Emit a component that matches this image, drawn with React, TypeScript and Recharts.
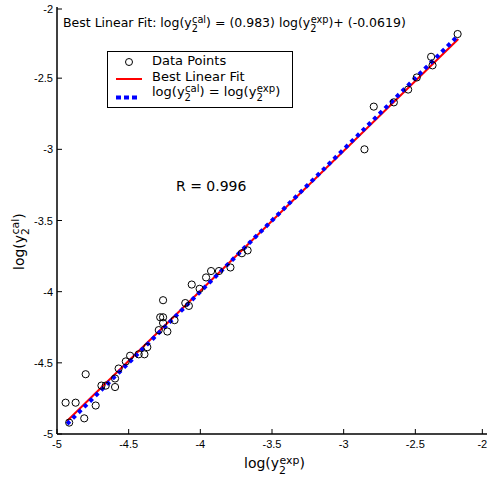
import React from "react"
import {
  ComposedChart,
  Scatter,
  Line,
  XAxis,
  YAxis,
  Customized
} from "recharts"

// experimental vs calculated (log y2)
const logExp = [
  -4.94, -4.87, -4.915, -4.81, -4.8, -4.73, -4.69, -4.66, -4.595, -4.595,
  -4.57, -4.52, -4.49, -4.43, -4.39, -4.37, -4.29, -4.28, -4.26, -4.26,
  -4.26, -4.23, -4.18, -4.105, -4.08, -4.06, -4.005, -3.96, -3.925, -3.87,
  -3.79, -3.71, -3.67, -2.855, -2.79, -2.65, -2.55, -2.49, -2.39, -2.38, -2.205
]
const logCal = [
  -4.78, -4.78, -4.92, -4.89, -4.58, -4.8, -4.66, -4.66, -4.67, -4.61,
  -4.54, -4.49, -4.45, -4.44, -4.44, -4.39, -4.27, -4.18, -4.18, -4.06,
  -4.22, -4.28, -4.2, -4.08, -4.1, -3.95, -3.98, -3.9, -3.855, -3.855,
  -3.83, -3.73, -3.71, -3.0, -2.7, -2.67, -2.58, -2.495, -2.35, -2.41, -2.19
]

// fit from the figure: log(cal) = 0.983 log(exp) - 0.0619
const fitSlope = 0.983
const fitIntercept = -0.0619
const lineRange = [-4.93, -2.2]
const ticks = [-5, -4.5, -4, -3.5, -3, -2.5, -2]

const points = logExp.map((x, i) => ({ x, y: logCal[i] }))
const fitLine = lineRange.map(x => ({ x, fit: fitSlope * x + fitIntercept }))
const idLine = lineRange.map(x => ({ x, ident: x }))

const TICK_FONT = "'Liberation Sans', Arial, sans-serif"
const FONT = "'DejaVu Sans', Verdana, sans-serif"

const BottomTick = (p: any) => (
  <g>
    <line x1={p.x} y1={p.y} x2={p.x} y2={p.y - 5} stroke="#000" />
    <text x={p.x} y={p.y + 14} textAnchor="middle" fontSize={11} fontFamily={TICK_FONT} fill="#000">
      {p.payload.value}
    </text>
  </g>
)
const LeftTick = (p: any) => (
  <g>
    <line x1={p.x} y1={p.y} x2={p.x + 5} y2={p.y} stroke="#000" />
    <text x={p.x - 4} y={p.y + 4} textAnchor="end" fontSize={11} fontFamily={TICK_FONT} fill="#000">
      {p.payload.value}
    </text>
  </g>
)
const TopTick = (p: any) => (
  <line x1={p.x} y1={p.y} x2={p.x} y2={p.y + 5} stroke="#000" />
)
const RightTick = (p: any) => (
  <line x1={p.x} y1={p.y} x2={p.x - 5} y2={p.y} stroke="#000" />
)

// y with subscript 2 and superscript stacked over it
const YSubSup = ({ sup, size }: { sup: string; size: number }) => {
  const s = size * 0.78
  return (
    <>
      <tspan>log(y</tspan>
      <tspan fontSize={s} dy={size * 0.4}>2</tspan>
      <tspan fontSize={s} dx={-s * 0.6} dy={-size * 0.7}>{sup}</tspan>
      <tspan dy={size * 0.3}>)</tspan>
    </>
  )
}

const Annotations = () => (
  <g fontFamily={FONT} fill="#000">
    <text x={63} y={27} fontSize={12.5}>
      <tspan>Best Linear Fit:  </tspan>
      <YSubSup sup="cal" size={12.5} />
      <tspan> = (0.983) </tspan>
      <YSubSup sup="exp" size={12.5} />
      <tspan>+ (-0.0619)</tspan>
    </text>
    <text x={176} y={191} fontSize={14}>R = 0.996</text>

    {/* legend */}
    <rect x={107.5} y={51.5} width={185} height={56} fill="#fff" stroke="#000" />
    <circle cx={129} cy={62} r={3.5} fill="none" stroke="#000" />
    <text x={152} y={65} fontSize={13}>Data Points</text>
    <line x1={116} y1={79} x2={142} y2={79} stroke="#ff0000" strokeWidth={2} />
    <text x={152} y={81} fontSize={13}>Best Linear Fit</text>
    <line x1={116} y1={97.5} x2={140} y2={97.5} stroke="#0000ff" strokeWidth={4} strokeDasharray="5 3" />
    <text x={152} y={96} fontSize={13}>
      <YSubSup sup="cal" size={13} />
      <tspan> = </tspan>
      <YSubSup sup="exp" size={13} />
    </text>

    {/* axis titles */}
    <text x={244} y={468} fontSize={14}>
      <YSubSup sup="exp" size={14} />
    </text>
    <text transform="translate(23.5,270) rotate(-90)" fontSize={14}>
      <YSubSup sup="cal" size={14} />
    </text>
  </g>
)

export default function App() {
  return (
    <div style={{ position: "absolute", left: 0, top: 0, background: "#fff" }}>
      <ComposedChart
        width={489}
        height={479}
        margin={{ top: 7, right: 2, bottom: 15, left: 17 }}
      >
        <XAxis
          dataKey="x"
          type="number"
          domain={[-5, -2]}
          ticks={ticks}
          height={30}
          tickSize={0}
          tickMargin={0}
          tick={<BottomTick />}
          axisLine={{ stroke: "#000", strokeWidth: 1.5 }}
          allowDataOverflow
        />
        <XAxis
          xAxisId="top"
          orientation="top"
          type="number"
          domain={[-5, -2]}
          ticks={ticks}
          height={0}
          tickSize={0}
          tickMargin={0}
          tick={<TopTick />}
          axisLine={{ stroke: "#000", strokeWidth: 1.5 }}
        />
        <YAxis
          type="number"
          domain={[-5, -2]}
          ticks={ticks}
          width={40}
          tickSize={0}
          tickMargin={0}
          tick={<LeftTick />}
          axisLine={{ stroke: "#000", strokeWidth: 1.5 }}
          allowDataOverflow
        />
        <YAxis
          yAxisId="right"
          orientation="right"
          type="number"
          domain={[-5, -2]}
          ticks={ticks}
          width={0}
          tickSize={0}
          tickMargin={0}
          tick={<RightTick />}
          axisLine={{ stroke: "#000", strokeWidth: 1.5 }}
        />
        <Line
          data={fitLine}
          dataKey="fit"
          stroke="#ff0000"
          strokeWidth={2}
          dot={false}
          isAnimationActive={false}
        />
        <Line
          data={idLine}
          dataKey="ident"
          stroke="#0000ff"
          strokeWidth={4}
          strokeDasharray="4 4"
          dot={false}
          isAnimationActive={false}
        />
        <Scatter
          data={points}
          dataKey="y"
          fill="none"
          shape={(p: any) => (
            <circle cx={p.cx} cy={p.cy} r={3.6} fill="none" stroke="#000" strokeWidth={1} />
          )}
          isAnimationActive={false}
        />
        <Customized component={Annotations} />
      </ComposedChart>
    </div>
  )
}
